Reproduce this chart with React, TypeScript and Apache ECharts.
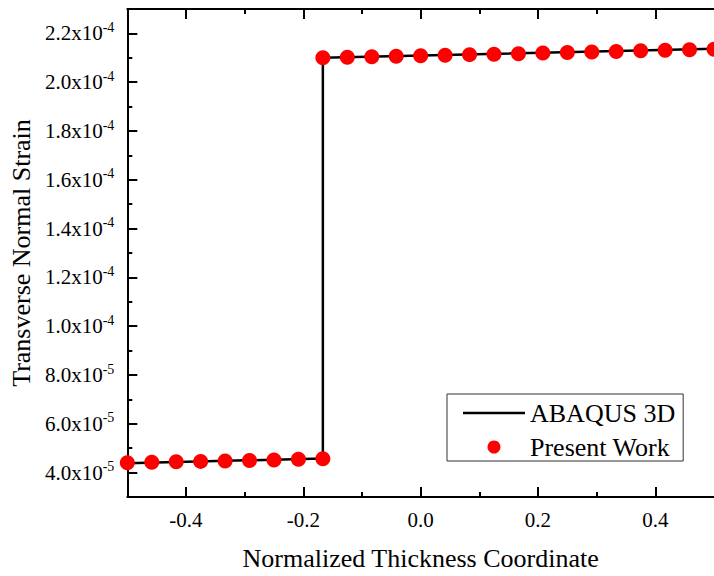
import React, { useEffect, useRef } from "react";
import * as echarts from "echarts";

const FONT = "Liberation Serif";

// ABAQUS 3D reference line
const abaqusX = [-0.5, -0.1667, -0.1667, 0.5];
const abaqusY = [4.38e-5, 4.58e-5, 2.1e-4, 2.137e-4];

// Present Work points
const presentX = [
  -0.5, -0.4583, -0.4167, -0.375, -0.3333, -0.2917, -0.25, -0.2083, -0.1667,
  -0.1667, -0.125, -0.0833, -0.0417, 0, 0.0417, 0.0833, 0.125, 0.1667, 0.2083,
  0.25, 0.2917, 0.3333, 0.375, 0.4167, 0.4583, 0.5,
];
const presentY = [
  4.4e-5, 4.42e-5, 4.44e-5, 4.46e-5, 4.48e-5, 4.5e-5, 4.52e-5, 4.55e-5, 4.57e-5,
  2.1e-4, 2.102e-4, 2.104e-4, 2.106e-4, 2.108e-4, 2.11e-4, 2.113e-4, 2.115e-4,
  2.117e-4, 2.12e-4, 2.122e-4, 2.124e-4, 2.126e-4, 2.129e-4, 2.131e-4, 2.133e-4,
  2.135e-4,
];

// Axis ticks
const xMajorTicks = [-0.4, -0.2, 0, 0.2, 0.4];
const xMinorTicks = [-0.3, -0.1, 0.1, 0.3];
const yMajorTicks = [4e-5, 6e-5, 8e-5, 1e-4, 1.2e-4, 1.4e-4, 1.6e-4, 1.8e-4, 2e-4, 2.2e-4];
const yMinorTicks = [5e-5, 7e-5, 9e-5, 1.1e-4, 1.3e-4, 1.5e-4, 1.7e-4, 1.9e-4, 2.1e-4];

const X_MIN = -0.5;
const X_MAX = 0.5;
const Y_MIN = 3e-5;
const Y_MAX = 2.3e-4;

function sciLabel(v: number): string {
  const exp = Math.floor(Math.log10(v) + 1e-9);
  const mant = (v / Math.pow(10, exp)).toFixed(1);
  return `{a|${mant}x10}{b|${exp}}`;
}

export default function App() {
  const ref = useRef<HTMLDivElement>(null);

  useEffect(() => {
    if (!ref.current) return;
    const chart = echarts.init(ref.current, null, { renderer: "svg" });
    const lineStyleAxis = { color: "#000", width: 2 };
    const baseX = {
      type: "value" as const,
      min: X_MIN,
      max: X_MAX,
      splitLine: { show: false },
    };
    const baseY = {
      type: "value" as const,
      min: Y_MIN,
      max: Y_MAX,
      splitLine: { show: false },
    };
    chart.setOption({
      animation: false,
      backgroundColor: "#fff",
      textStyle: { fontFamily: FONT },
      grid: { left: 125, top: 9, bottom: 76, right: -10 },
      legend: {
        orient: "vertical",
        left: 447,
        top: 394,
        padding: [6, 8, 1, 16],
        itemGap: 8,
        itemWidth: 62,
        itemHeight: 13,
        borderColor: "#333",
        borderWidth: 1,
        borderRadius: 0,
        textStyle: { fontFamily: FONT, fontSize: 26, color: "#000" },
        data: [
          { name: "ABAQUS 3D", icon: "path://M0,0L62,0L62,2.5L0,2.5Z" },
          { name: "Present Work", icon: "circle" },
        ],
      },
      xAxis: [
        {
          ...baseX,
          position: "bottom",
          name: "Normalized Thickness Coordinate",
          nameLocation: "middle",
          nameGap: 48,
          nameTextStyle: { fontFamily: FONT, fontSize: 26, color: "#000" },
          axisLine: { show: true, onZero: false, lineStyle: lineStyleAxis },
          axisTick: {
            show: true,
            inside: true,
            length: 10,
            lineStyle: lineStyleAxis,
            customValues: xMajorTicks,
          },
          axisLabel: {
            show: true,
            margin: 12,
            fontFamily: FONT,
            fontSize: 21,
            color: "#000",
            customValues: xMajorTicks,
            formatter: (v: number) => v.toFixed(1),
          },
        },
        {
          ...baseX,
          position: "bottom",
          axisLine: { show: false, onZero: false },
          axisTick: {
            show: true,
            inside: true,
            length: 5,
            lineStyle: lineStyleAxis,
            customValues: xMinorTicks,
          },
          axisLabel: { show: false },
        },
        {
          ...baseX,
          position: "top",
          axisLine: { show: true, onZero: false, lineStyle: lineStyleAxis },
          axisTick: {
            show: true,
            inside: true,
            length: 10,
            lineStyle: lineStyleAxis,
            customValues: xMajorTicks,
          },
          axisLabel: { show: false },
        },
        {
          ...baseX,
          position: "top",
          axisLine: { show: false, onZero: false },
          axisTick: {
            show: true,
            inside: true,
            length: 5,
            lineStyle: lineStyleAxis,
            customValues: xMinorTicks,
          },
          axisLabel: { show: false },
        },
      ],
      yAxis: [
        {
          ...baseY,
          position: "left",
          name: "Transverse Normal Strain",
          nameLocation: "middle",
          nameGap: 87,
          nameRotate: 90,
          nameTextStyle: { fontFamily: FONT, fontSize: 26, color: "#000" },
          axisLine: { show: true, onZero: false, lineStyle: lineStyleAxis },
          axisTick: {
            show: true,
            inside: true,
            length: 10,
            lineStyle: lineStyleAxis,
            customValues: yMajorTicks,
          },
          axisLabel: {
            show: true,
            margin: 13,
            customValues: yMajorTicks,
            formatter: sciLabel,
            rich: {
              a: { fontFamily: FONT, fontSize: 21, color: "#000", lineHeight: 26 },
              b: {
                fontFamily: FONT,
                fontSize: 14,
                color: "#000",
                lineHeight: 12,
                verticalAlign: "top",
              },
            },
          },
        },
        {
          ...baseY,
          position: "left",
          axisLine: { show: false, onZero: false },
          axisTick: {
            show: true,
            inside: true,
            length: 5,
            lineStyle: lineStyleAxis,
            customValues: yMinorTicks,
          },
          axisLabel: { show: false },
        },
      ],
      series: [
        {
          name: "ABAQUS 3D",
          type: "line",
          xAxisIndex: 0,
          yAxisIndex: 0,
          symbol: "none",
          clip: true,
          lineStyle: { color: "#000", width: 2.5 },
          itemStyle: { color: "#000" },
          data: abaqusX.map((x, i) => [x, abaqusY[i]]),
          z: 2,
        },
        {
          name: "Present Work",
          type: "scatter",
          xAxisIndex: 0,
          yAxisIndex: 0,
          symbol: "circle",
          symbolSize: 15,
          clip: true,
          itemStyle: { color: "#ff0000", opacity: 1 },
          data: presentX.map((x, i) => [x, presentY[i]]),
          z: 3,
        },
      ],
    });
    return () => chart.dispose();
  }, []);

  return (
    <div
      ref={ref}
      style={{ width: 714, height: 576, position: "absolute", left: 0, top: 0 }}
    />
  );
}
